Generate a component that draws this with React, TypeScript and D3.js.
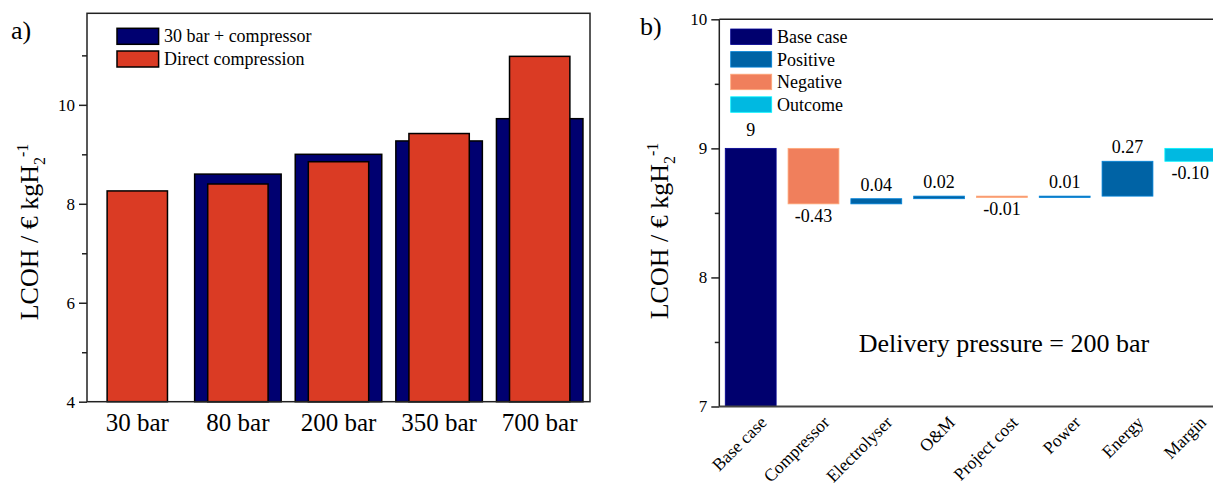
import React, { useEffect, useRef } from 'react';
import * as d3 from 'd3';

// panel a) data
const categoriesA = ['30 bar', '80 bar', '200 bar', '350 bar', '700 bar'];
const compressorA = [null, 8.60, 9.00, 9.27, 9.72];
const directA = [8.26, 8.40, 8.85, 9.42, 10.98];
const yTicksA = [4, 6, 8, 10];
const yMinorA = [5, 7, 9, 11];
const legendA = ['30 bar + compressor', 'Direct compression'];

// panel b) data
const categoriesB = ['Base case', 'Compressor', 'Electrolyser', 'O&M', 'Project cost', 'Power', 'Energy', 'Margin'];
const deltasB = [9, -0.43, 0.04, 0.02, -0.01, 0.01, 0.27, -0.10];
const kindsB = ['Base case', 'Negative', 'Positive', 'Positive', 'Negative', 'Positive', 'Positive', 'Outcome'];
const legendB = ['Base case', 'Positive', 'Negative', 'Outcome'];
const yTicksB = [7, 8, 9, 10];
const yMinorB = [7.5, 8.5, 9.5];

const FONT = '"Liberation Serif", "Times New Roman", "DejaVu Serif", serif';
const colorsB = {
  'Base case': '#00006e',
  Positive: '#0063a5',
  Negative: '#f07f5c',
  Outcome: '#00b9e1',
};

const fmt2 = v => d3.format('.2f')(v).replace('\u2212', '-');

const App = () => {
  const svgRef = useRef(null);

  useEffect(() => {
    const svg = d3.select(svgRef.current);
    svg.selectAll('*').remove();
    svg.attr('width', 1213).attr('height', 491);

    // ---------- panel a ----------
    const xA = d3.scaleBand().domain(categoriesA).range([87, 590]);
    const yA = d3.scaleLinear().domain([4, 11.85]).range([401.7, 13.3]);
    const bw = xA.bandwidth();

    const blueData = categoriesA
      .map((c, i) => ({ c, v: compressorA[i] }))
      .filter(d => d.v != null);
    svg.selectAll('.blueA')
      .data(blueData)
      .enter()
      .append('rect')
      .attr('x', d => xA(d.c) + bw * 0.07)
      .attr('y', d => yA(d.v))
      .attr('width', bw * 0.86)
      .attr('height', d => yA(4) - yA(d.v))
      .attr('fill', '#000070')
      .attr('stroke', '#000')
      .attr('stroke-width', 1.5);

    svg.selectAll('.redA')
      .data(categoriesA.map((c, i) => ({ c, v: directA[i] })))
      .enter()
      .append('rect')
      .attr('x', d => xA(d.c) + bw * 0.2)
      .attr('y', d => yA(d.v))
      .attr('width', bw * 0.6)
      .attr('height', d => yA(4) - yA(d.v))
      .attr('fill', '#da3b24')
      .attr('stroke', '#000')
      .attr('stroke-width', 1.5);

    // frame
    svg.append('rect')
      .attr('x', 87).attr('y', 13.3)
      .attr('width', 503).attr('height', yA(4) - 13.3)
      .attr('fill', 'none')
      .attr('stroke', '#222')
      .attr('stroke-width', 1.5);

    const axA = svg.append('g')
      .attr('transform', 'translate(87,0)')
      .call(d3.axisLeft(yA).tickValues(yTicksA).tickSize(8).tickPadding(4).tickFormat(d3.format('d')));
    const axAm = svg.append('g')
      .attr('transform', 'translate(87,0)')
      .call(d3.axisLeft(yA).tickValues(yMinorA).tickSize(5).tickFormat(() => ''));
    const axAx = svg.append('g')
      .attr('transform', `translate(0,${yA(4)})`)
      .call(d3.axisBottom(xA).tickSize(0).tickPadding(12));
    [axA, axAm, axAx].forEach(g => {
      g.select('.domain').remove();
      g.selectAll('line').attr('stroke', '#222').attr('stroke-width', 1.5);
      g.selectAll('text').attr('fill', '#000').style('font-family', FONT);
    });
    axA.selectAll('text').style('font-size', '17px');
    axAx.selectAll('text').style('font-size', '25px');

    // legend a
    legendA.forEach((name, i) => {
      svg.append('rect')
        .attr('x', 117).attr('y', 28.3 + i * 22.7)
        .attr('width', 41.6).attr('height', 16)
        .attr('fill', i === 0 ? '#000070' : '#da3b24')
        .attr('stroke', '#000').attr('stroke-width', 1.5);
      svg.append('text')
        .attr('x', 164).attr('y', 28.3 + i * 22.7 + 14)
        .text(name)
        .style('font-family', FONT).style('font-size', '18px');
    });

    svg.append('text').attr('x', 11).attr('y', 39).text('a)')
      .style('font-family', FONT).style('font-size', '26px');

    const yLabel = (x, y) => {
      const t = svg.append('text')
        .attr('transform', `translate(${x},${y}) rotate(-90)`)
        .attr('text-anchor', 'middle')
        .style('font-family', FONT).style('font-size', '26px');
      t.append('tspan').text('LCOH / € kgH');
      t.append('tspan').text('2').attr('dy', 7).style('font-size', '16px');
      t.append('tspan').text('-1').attr('dy', -17).style('font-size', '16px');
    };
    yLabel(38, 232);

    // ---------- panel b ----------
    const xB = d3.scaleBand().domain(categoriesB).range([719.3, 719.3 + 8 * 62.8]);
    const yB = d3.scaleLinear().domain([7, 10]).range([406.5, 19.3]);
    const bwB = xB.bandwidth();

    let run = 0;
    const bars = categoriesB.map((c, i) => {
      const d = deltasB[i];
      const kind = kindsB[i];
      let lo, hi;
      if (i === 0) { lo = 0; hi = d; run = d; }
      else if (kind === 'Outcome') { lo = run; hi = run - d; }
      else { lo = run; hi = run + d; run = hi; }
      return { c, d, kind, top: Math.max(lo, hi), bottom: Math.max(Math.min(lo, hi), 7) };
    });

    svg.selectAll('.barB')
      .data(bars)
      .enter()
      .append('rect')
      .attr('x', d => xB(d.c) + bwB * 0.095)
      .attr('y', d => yB(d.top))
      .attr('width', bwB * 0.81)
      .attr('height', d => Math.max(yB(d.bottom) - yB(d.top), 1))
      .attr('fill', d => colorsB[d.kind])
      .attr('stroke', d => d3.color(colorsB[d.kind]).brighter(0.8).formatHex())
      .attr('stroke-width', 0.8);

    svg.selectAll('.lblB')
      .data(bars)
      .enter()
      .append('text')
      .attr('x', d => xB(d.c) + bwB / 2)
      .attr('y', (d, i) => i === 0 ? yB(d.top) - 12 : d.d > 0 ? yB(d.top) - 8 : yB(d.bottom) + 18)
      .attr('text-anchor', 'middle')
      .text((d, i) => i === 0 ? String(d.d) : fmt2(d.d))
      .style('font-family', FONT).style('font-size', '18px');

    // axes b
    svg.append('line')
      .attr('x1', 719.3).attr('x2', 1240).attr('y1', yB(10)).attr('y2', yB(10))
      .attr('stroke', '#222').attr('stroke-width', 1.5);
    svg.append('line')
      .attr('x1', 719.3).attr('x2', 1240).attr('y1', yB(7)).attr('y2', yB(7))
      .attr('stroke', '#444').attr('stroke-width', 2);
    svg.append('line')
      .attr('x1', 719.3).attr('x2', 719.3).attr('y1', yB(10)).attr('y2', yB(7))
      .attr('stroke', '#222').attr('stroke-width', 1.5);

    const axB = svg.append('g')
      .attr('transform', 'translate(719.3,0)')
      .call(d3.axisLeft(yB).tickValues(yTicksB).tickSize(8).tickPadding(4).tickFormat(d3.format('d')));
    const axBm = svg.append('g')
      .attr('transform', 'translate(719.3,0)')
      .call(d3.axisLeft(yB).tickValues(yMinorB).tickSize(4.5).tickFormat(() => ''));
    [axB, axBm].forEach(g => {
      g.select('.domain').remove();
      g.selectAll('line').attr('stroke', '#222').attr('stroke-width', 1.5);
      g.selectAll('text').attr('fill', '#000')
        .style('font-family', FONT).style('font-size', '17px');
    });

    svg.selectAll('.xlblB')
      .data(categoriesB)
      .enter()
      .append('text')
      .attr('transform', d => `translate(${xB(d) + bwB / 2 + 17},${yB(7) + 17}) rotate(-45)`)
      .attr('text-anchor', 'end')
      .text(d => d)
      .style('font-family', FONT).style('font-size', '17.5px');

    // legend b
    legendB.forEach((name, i) => {
      svg.append('rect')
        .attr('x', 730.7).attr('y', 29 + i * 22.6)
        .attr('width', 41).attr('height', 15.5)
        .attr('fill', colorsB[name])
        .attr('stroke', d3.color(colorsB[name]).brighter(0.8).formatHex())
        .attr('stroke-width', 0.8);
      svg.append('text')
        .attr('x', 777).attr('y', 29 + i * 22.6 + 14)
        .text(name)
        .style('font-family', FONT).style('font-size', '18px');
    });

    svg.append('text').attr('x', 1004).attr('y', 352)
      .attr('text-anchor', 'middle')
      .text('Delivery pressure = 200 bar')
      .style('font-family', FONT).style('font-size', '26px');

    svg.append('text').attr('x', 640).attr('y', 35).text('b)')
      .style('font-family', FONT).style('font-size', '26px');

    yLabel(668, 231);
  }, []);

  return (
    <svg ref={svgRef} style={{ position: 'absolute', left: 0, top: 0, background: '#fff' }}></svg>
  );
};

export default App;
